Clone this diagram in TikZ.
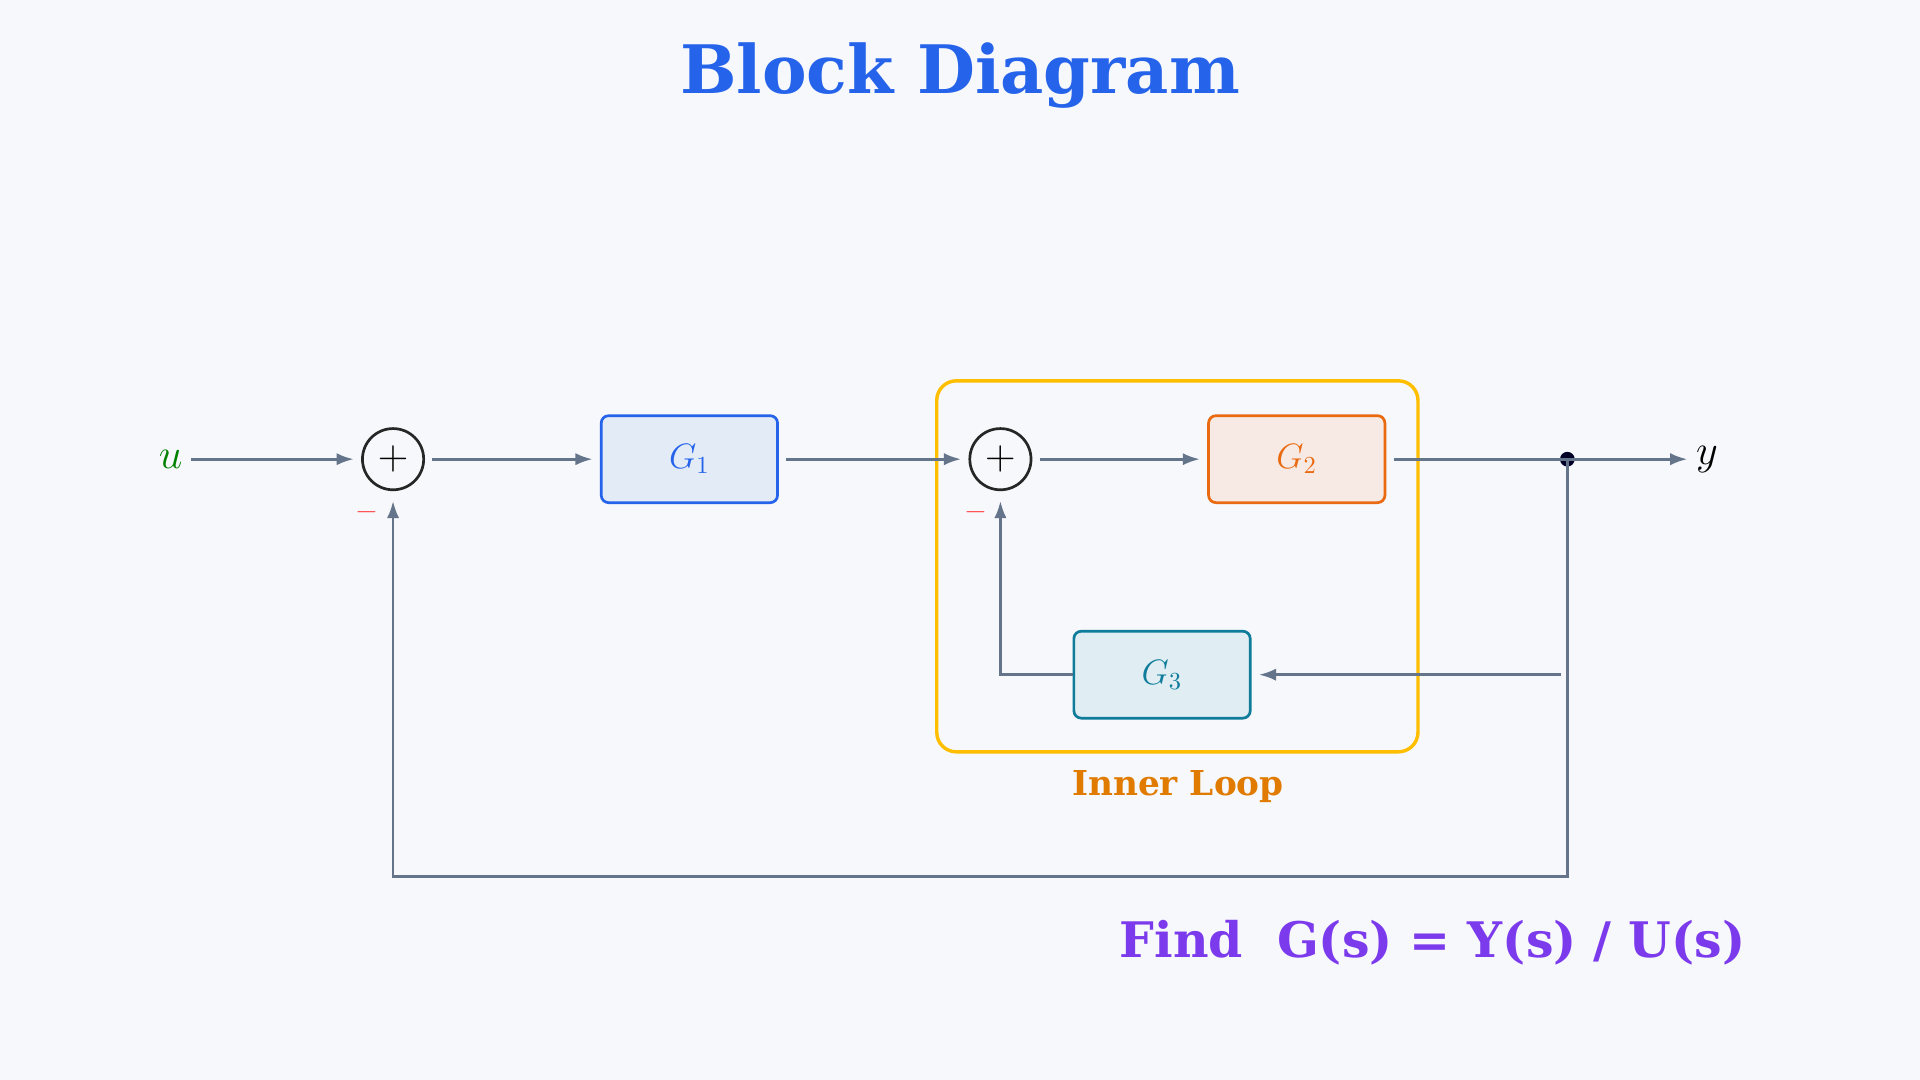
\documentclass[tikz,border=0pt]{standalone}
\usepackage{fontspec}
\newfontfamily\dvs{DejaVu Serif}
\usetikzlibrary{arrows.meta}
\definecolor{bg}{HTML}{F6F8FB}
\definecolor{ttl}{HTML}{2563EB}
\definecolor{ln}{HTML}{64748B}
\definecolor{purp}{HTML}{7C3AED}
\definecolor{orng}{HTML}{E07B00}
\definecolor{f1}{HTML}{E3EBF7}
\definecolor{f2}{HTML}{F7EAE4}
\definecolor{f3}{HTML}{E0EEF3}
\definecolor{c2}{HTML}{EA6A12}
\definecolor{c3}{HTML}{0E7C9A}
\begin{document}
\begin{tikzpicture}[x=0.5pt,y=-0.5pt,
  conn/.style={draw=ln,line width=1.1pt},
  arr/.style={conn,-{Latex[length=7pt,width=5pt]}},
  sumnode/.style={circle,draw=black!85,line width=1.1pt,minimum size=25pt,inner sep=0pt,fill=bg},
  blk/.style={rounded corners=3pt,line width=1.1pt,minimum width=72pt,minimum height=35.5pt,font=\fontsize{14}{16}\selectfont}]
\fill[bg] (0,0) rectangle (1568,882);
\node[font=\dvs\bfseries\fontsize{27.3}{32}\selectfont,text=ttl] (title) at (784,62) {Block Diagram};
\draw[rounded corners=8pt,draw=orange!50!yellow,line width=1.4pt] (765,311) rectangle (1158,614);
\node[font=\dvs\bfseries\fontsize{14}{16}\selectfont,text=orng] (inner) at (962,642) {Inner Loop};
\node[text=green!50!black,font=\fontsize{17}{20}\selectfont,anchor=east] (u) at (156,375) {$u$};
\node[sumnode] (s1) at (321,375) {\fontsize{16}{16}\selectfont$+$};
\node[sumnode] (s2) at (817,375) {\fontsize{16}{16}\selectfont$+$};
\node[blk,draw=ttl,fill=f1,text=ttl] (g1) at (563,375) {$G_1$};
\node[blk,draw=c2,fill=f2,text=c2] (g2) at (1059,375) {$G_2$};
\node[blk,draw=c3,fill=f3,text=c3] (g3) at (949,551) {$G_3$};
\fill[black!85!blue] (1280,375) circle (3pt) coordinate (dot);
\node[font=\fontsize{17}{20}\selectfont,anchor=west] (y) at (1378,375) {$y$};
\node[text=red!70,font=\fontsize{12}{12}\selectfont] (m1) at (300,418) {$-$};
\node[text=red!70,font=\fontsize{12}{12}\selectfont] (m2) at (797,418) {$-$};
\coordinate (b1) at (321,716);
\coordinate (b2) at (1280,716);
\coordinate (r3) at (1275,551);
\coordinate (l3) at (817,551);
\draw[arr,shorten >=3pt] (u.east) -- (s1.west);
\draw[arr,shorten <=3pt,shorten >=3pt] (s1) -- (g1);
\draw[arr,shorten <=3pt,shorten >=3pt] (g1) -- (s2);
\draw[arr,shorten <=3pt,shorten >=3pt] (s2) -- (g2);
\draw[arr,shorten <=3pt] (g2.east) -- (y.west);
\draw[arr,shorten >=4pt] (dot) -- (b2) -- (b1) -- (s1);
\draw[arr,shorten >=3pt] (r3) -- (g3);
\draw[arr,shorten >=4pt] (g3) -- (l3) -- (s2);
\node[font=\dvs\bfseries\fontsize{20}{24}\selectfont,text=purp] (find) at (1170,770) {Find\ \ G(s) = Y(s) / U(s)};
\end{tikzpicture}
\end{document}
